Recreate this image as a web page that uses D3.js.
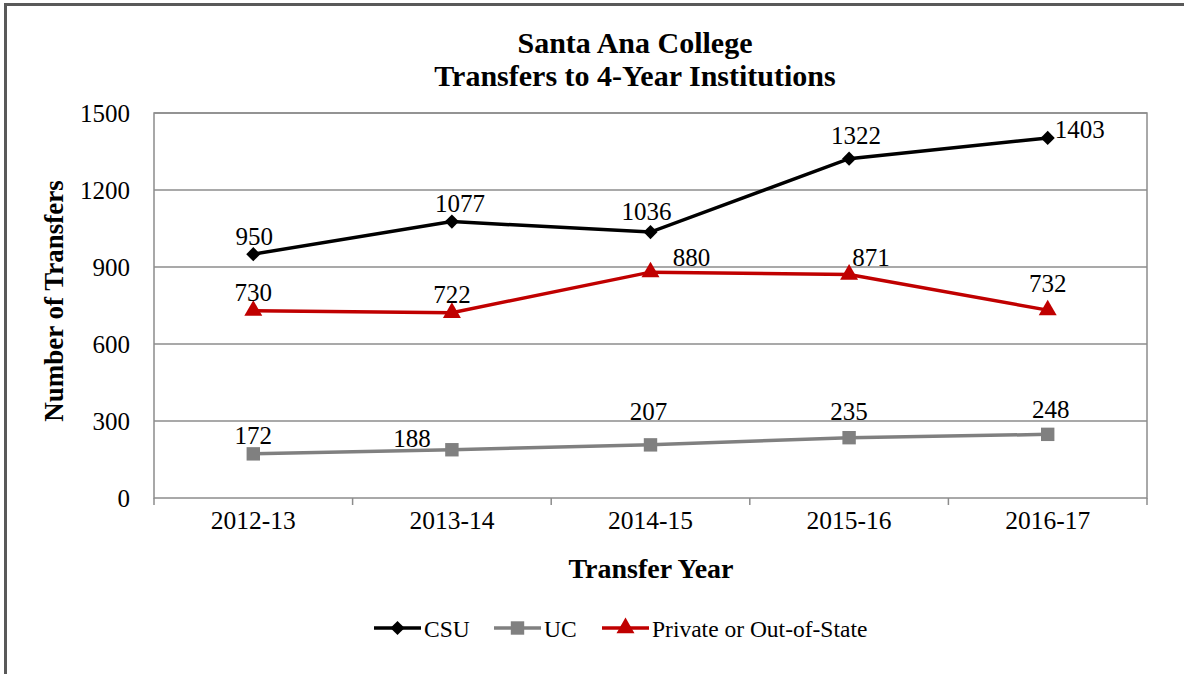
<!DOCTYPE html>
<html><head><meta charset="utf-8">
<script src="https://cdn.jsdelivr.net/npm/d3@7"></script>
<style>body{margin:0;background:#fff}svg{display:block}svg text{font-family:"Liberation Serif","Times New Roman",serif !important;fill:#000}</style>
</head><body>
<script>
const categories = ["2012-13","2013-14","2014-15","2015-16","2016-17"];
const csu = [950,1077,1036,1322,1403];
const uc = [172,188,207,235,248];
const priv = [730,722,880,871,732];
const yTicks = [0,300,600,900,1200,1500];
const seriesNames = ["CSU","UC","Private or Out-of-State"];

// label offsets (styling only)
const csuOff = [[1,-9],[8,-10],[-4,-12],[7,-15],[32,0]];
const ucOff = [[0,-10],[-40,-3],[-2,-25],[0,-18],[3,-16]];
const privOff = [[0,-10],[0,-10],[41,-6],[22,-8],[0,-18]];

const W=1184,H=674;
const svg=d3.select("body").append("svg").attr("width",W).attr("height",H);
// frame
svg.append("rect").attr("x",5.5).attr("y",4.5).attr("width",1200).attr("height",700)
  .attr("fill","none").attr("stroke","#595959").attr("stroke-width",3);

const L=154,R=1147,T=113,B=498;
const x=d3.scaleBand().domain(categories).range([L,R]);
const y=d3.scaleLinear().domain([0,1500]).range([B,T]);
const gridColor="#8c8c8c";

// gridlines
svg.append("g").selectAll("line").data(yTicks.filter(d=>d>0)).join("line")
  .attr("x1",L).attr("x2",R).attr("y1",d=>y(d)).attr("y2",d=>y(d))
  .attr("stroke",gridColor).attr("stroke-width",1.5);
svg.append("rect").attr("x",L).attr("y",T).attr("width",R-L).attr("height",B-T)
  .attr("fill","none").attr("stroke",gridColor).attr("stroke-width",1.5);

// y axis
const ya=svg.append("g").attr("transform",`translate(${L},0)`)
  .call(d3.axisLeft(y).tickValues(yTicks).tickFormat(d3.format("d")).tickSize(0).tickPadding(24));
ya.select(".domain").remove();
ya.selectAll("text").style("font-size","25px").attr("dy","0.33em");

// x axis
const xa=svg.append("g").attr("transform",`translate(0,${B})`)
  .call(d3.axisBottom(x).tickSize(0).tickPadding(22));
xa.select(".domain").remove();
xa.selectAll("text").style("font-size","25.5px").attr("dy","0.35em");
// band boundary ticks
const bounds=categories.map(c=>x(c)).concat([R]);
svg.append("g").selectAll("line").data(bounds).join("line")
  .attr("x1",d=>d).attr("x2",d=>d).attr("y1",B).attr("y2",B+7)
  .attr("stroke",gridColor).attr("stroke-width",1.5);

const cx=c=>x(c)+x.bandwidth()/2;
const line=d3.line().x((d,i)=>cx(categories[i])).y(d=>y(d));

const series=[
  {name:"CSU",vals:csu,color:"#000000",shape:d3.symbolSquare,size:100,rot:45,off:csuOff},
  {name:"UC",vals:uc,color:"#808080",shape:d3.symbolSquare,size:180,rot:0,off:ucOff},
  {name:"Private or Out-of-State",vals:priv,color:"#C00000",shape:d3.symbolTriangle,size:140,rot:0,off:privOff}
];
const order=[series[1],series[2],series[0]];
order.forEach(s=>{
  svg.append("path").attr("d",line(s.vals)).attr("fill","none").attr("stroke",s.color).attr("stroke-width",3.5);
  svg.append("g").selectAll("path").data(s.vals).join("path")
    .attr("transform",(d,i)=>`translate(${cx(categories[i])},${y(d)}) rotate(${s.rot})`)
    .attr("d",d3.symbol().type(s.shape).size(s.size)).attr("fill",s.color);
  svg.append("g").selectAll("text").data(s.vals).join("text")
    .attr("x",(d,i)=>cx(categories[i])+s.off[i][0]).attr("y",(d,i)=>y(d)+s.off[i][1])
    .attr("text-anchor","middle").style("font-size","25px").text(d=>d);
});

// titles
svg.append("text").attr("x",635).attr("y",53).attr("text-anchor","middle").style("font-size","30px").style("font-weight","bold").text("Santa Ana College");
svg.append("text").attr("x",635).attr("y",86).attr("text-anchor","middle").style("font-size","30px").style("font-weight","bold").text("Transfers to 4-Year Institutions");
svg.append("text").attr("transform","translate(63,301) rotate(-90)").attr("text-anchor","middle").style("font-size","27px").style("font-weight","bold").text("Number of Transfers");
svg.append("text").attr("x",651).attr("y",578).attr("text-anchor","middle").style("font-size","28px").style("font-weight","bold").text("Transfer Year");

// legend
const legX=[374,494,602];
const lg=svg.append("g");
series.forEach((s,i)=>{
  const g=lg.append("g").attr("transform",`translate(${legX[i]},628)`);
  g.append("line").attr("x1",0).attr("x2",47).attr("stroke",s.color).attr("stroke-width",3.5);
  g.append("path").attr("transform",`translate(23.5,0) rotate(${s.rot})`)
    .attr("d",d3.symbol().type(s.shape).size(s.size)).attr("fill",s.color);
  g.append("text").attr("x",50).attr("y",9).style("font-size","23.5px").text(s.name);
});
</script>
</body></html>
